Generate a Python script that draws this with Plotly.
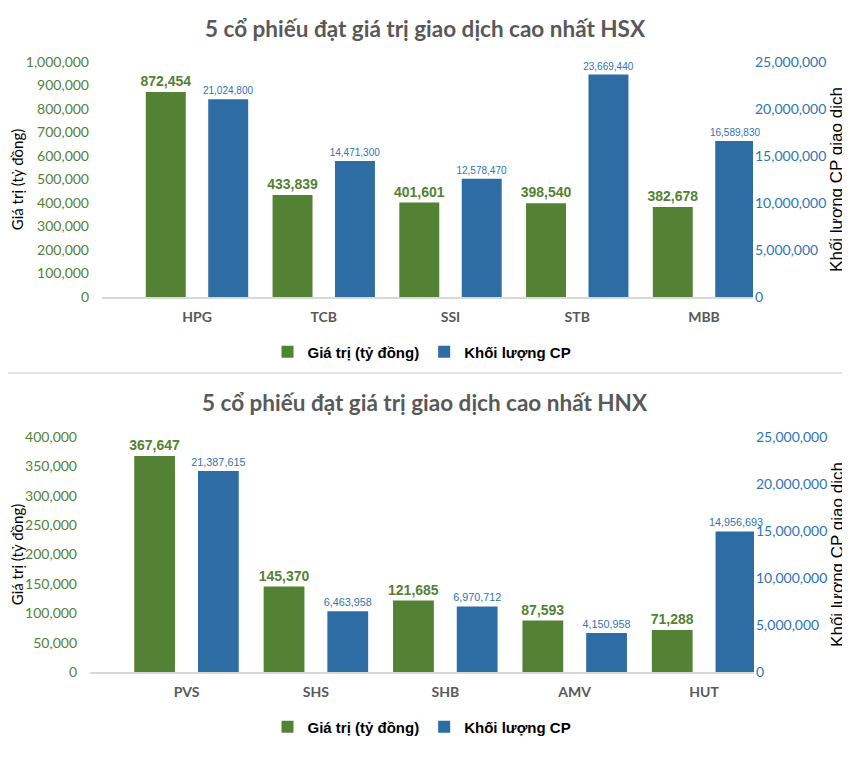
import plotly.graph_objects as go

# ---------------- data ----------------
hsx_tickers = ["HPG", "TCB", "SSI", "STB", "MBB"]
hsx_value = [872454, 433839, 401601, 398540, 382678]
hsx_volume = [21024800, 14471300, 12578470, 23669440, 16589830]

hnx_tickers = ["PVS", "SHS", "SHB", "AMV", "HUT"]
hnx_value = [367647, 145370, 121685, 87593, 71288]
hnx_volume = [21387615, 6463958, 6970712, 4150958, 14956693]

chart_titles = ["5 cổ phiếu đạt giá trị giao dịch cao nhất HSX",
                "5 cổ phiếu đạt giá trị giao dịch cao nhất HNX"]
series_names = ["Giá trị (tỷ đồng)", "Khối lượng CP"]
left_axis_title = "Giá trị (tỷ đồng)"
right_axis_title = "Khối lượng CP giao dịch"

# ---------------- style ----------------
# page body has an 8px default margin, so the figure starts at (8, 8)
OFF = 8
W, H = 850 - OFF, 774 - OFF
GREEN = "#548235"
BLUE_BAR = "#2E6CA4"
BLUE_TXT = "#2E75B6"
GRAY = "#595959"
LATO = "Lato, Carlito, Calibri, sans-serif"
ARIAL = "Liberation Sans, Arial, sans-serif"


def px(x):
    return (x - OFF) / W


def py(y):
    return 1 - (y - OFF) / H


fig = go.Figure()

panels = [
    dict(tickers=hsx_tickers, value=hsx_value, volume=hsx_volume,
         xa="x", ya="y", ya2="y2", legend="legend", vsize=10, gsize=14),
    dict(tickers=hnx_tickers, value=hnx_value, volume=hnx_volume,
         xa="x2", ya="y3", ya2="y4", legend="legend2", vsize=10.8, gsize=14),
]

for p in panels:
    fig.add_trace(go.Bar(
        x=p["tickers"], y=p["value"], name=series_names[0],
        xaxis=p["xa"], yaxis=p["ya"], offsetgroup="g", legend=p["legend"],
        marker=dict(color=GREEN, line=dict(width=0)),
        text=[f"{v:,}" for v in p["value"]], textposition="outside",
        constraintext="none",
        textfont=dict(family=ARIAL, size=p["gsize"], color=GREEN, weight="bold"),
        cliponaxis=False, hoverinfo="x+y",
    ))
    fig.add_trace(go.Bar(
        x=p["tickers"], y=p["volume"], name=series_names[1],
        xaxis=p["xa"], yaxis=p["ya2"], offsetgroup="b", legend=p["legend"],
        marker=dict(color=BLUE_BAR, line=dict(width=0)),
        text=[f"{v:,}" for v in p["volume"]], textposition="outside",
        constraintext="none",
        textfont=dict(family=ARIAL, size=p["vsize"], color=BLUE_TXT),
        cliponaxis=False, hoverinfo="x+y",
    ))

xcommon = dict(type="category", showgrid=False, zeroline=False, showline=True,
               linecolor="#D9D9D9", linewidth=1.5, ticks="",
               tickfont=dict(family=LATO, size=14, color=GRAY, weight="bold"),
               ticklabelstandoff=6, automargin=False, fixedrange=True)
yleft = dict(showgrid=False, zeroline=False, showline=False, ticks="",
             tickformat=",", tickfont=dict(family=LATO, size=14, color=GREEN),
             title=dict(text=left_axis_title, font=dict(family=LATO, size=15, color="#000000"),
                        standoff=6),
             ticklabelstandoff=12, automargin=False, fixedrange=True)
yright = dict(showgrid=False, zeroline=False, showline=False, ticks="",
              tickformat=",", tickfont=dict(family=LATO, size=14, color=BLUE_TXT),
              title=dict(text=right_axis_title, font=dict(family=ARIAL, size=17, color="#000000"),
                         standoff=4),
              side="right", ticklabelstandoff=1, automargin=False, fixedrange=True)

legend_common = dict(orientation="h", xanchor="center", yanchor="middle",
                     font=dict(family=ARIAL, size=15, color="#000000", weight="bold"),
                     itemwidth=30, traceorder="normal", bgcolor="rgba(0,0,0,0)")

fig.update_layout(
    width=W, height=H,
    margin=dict(l=0, r=0, t=0, b=0),
    paper_bgcolor="white", plot_bgcolor="white",
    barmode="group", bargap=0.015, bargroupgap=0.36,
    xaxis=dict(xcommon, domain=[px(102), px(753)], range=[-0.7495, 4.3866], anchor="y"),
    yaxis=dict(yleft, domain=[py(297), py(62)], range=[0, 1000000], dtick=100000, anchor="x"),
    yaxis2=dict(yright, range=[0, 25000000], dtick=5000000, overlaying="y", anchor="x"),
    xaxis2=dict(xcommon, domain=[px(90), px(754)], range=[-0.7458, 4.3857], anchor="y3"),
    yaxis3=dict(yleft, domain=[py(672), py(437)], range=[0, 400000], dtick=50000, anchor="x2"),
    yaxis4=dict(yright, range=[0, 25000000], dtick=5000000, overlaying="y3", anchor="x2"),
    legend=dict(legend_common, x=px(422), y=py(352)),
    legend2=dict(legend_common, x=px(422), y=py(727)),
    annotations=[
        dict(text=chart_titles[0], x=px(425), y=py(28), xref="paper", yref="paper",
             showarrow=False, xanchor="center", yanchor="middle",
             font=dict(family=LATO, size=22.5, color=GRAY, weight="bold")),
        dict(text=chart_titles[1], x=px(425), y=py(402), xref="paper", yref="paper",
             showarrow=False, xanchor="center", yanchor="middle",
             font=dict(family=LATO, size=22.5, color=GRAY, weight="bold")),
    ],
    shapes=[dict(type="line", xref="paper", yref="paper", x0=0, x1=1,
                 y0=py(373), y1=py(373), line=dict(color="#D9D9D9", width=1.5))],
)

fig.write_html("out.html")
